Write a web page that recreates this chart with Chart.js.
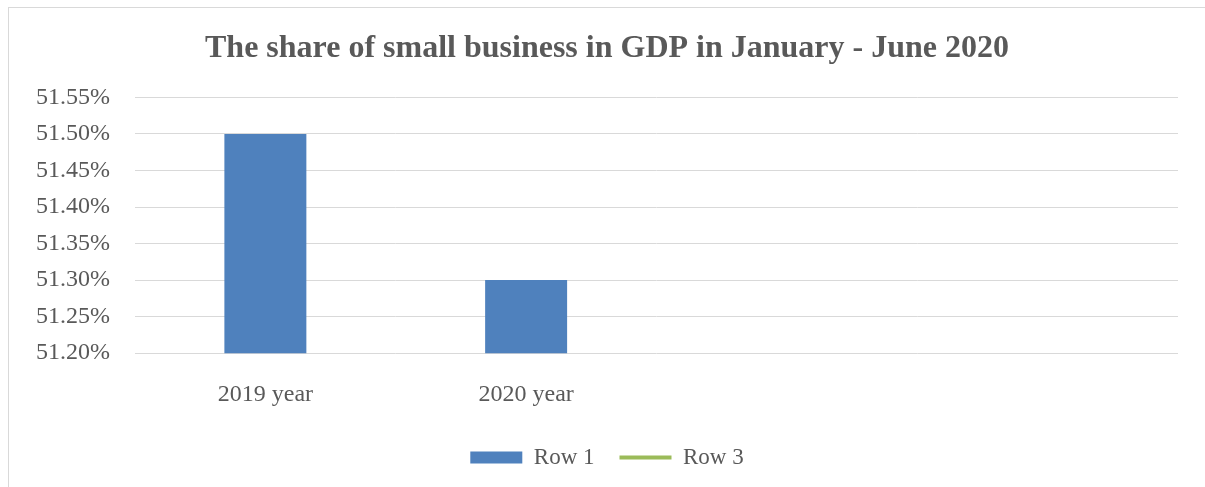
<!DOCTYPE html>
<html lang="en">
<head>
    <meta charset="UTF-8">
    <title>The share of small business in GDP</title>
    <script src="https://cdn.jsdelivr.net/npm/chart.js"></script>
    <style>
        html, body {
            margin: 0;
            padding: 0;
            background: #fff;
            overflow: hidden;
        }
        .frame {
            position: absolute;
            left: 8px;
            top: 7px;
            width: 1260px;
            height: 520px;
            border: 1px solid #d9d9d9;
        }
        .wrap {
            position: absolute;
            left: 33px;
            top: 0;
            width: 1172px;
            height: 487px;
        }
    </style>
</head>
<body>
    <div class="frame"></div>
    <div class="wrap"><canvas id="chart"></canvas></div>

    <script>
        const categories = ['2019 year', '2020 year', '', ''];
        const row1 = [51.50, 51.30, null, null];
        const row3 = [];
        const yMin = 51.20;
        const yMax = 51.55;
        const yStep = 0.05;

        const textColor = '#595959';
        const serif = "'Liberation Serif', 'Times New Roman', serif";

        new Chart(document.getElementById('chart'), {
            data: {
                labels: categories,
                datasets: [
                    {
                        type: 'bar',
                        label: 'Row 1',
                        data: row1,
                        backgroundColor: '#4f81bd',
                        borderWidth: 0,
                        categoryPercentage: 0.8,
                        barPercentage: 0.393,
                        pointStyle: 'rect'
                    },
                    {
                        type: 'line',
                        label: 'Row 3',
                        data: row3,
                        borderColor: '#9bbb59',
                        backgroundColor: '#9bbb59',
                        borderWidth: 4,
                        borderCapStyle: 'round',
                        pointStyle: 'line'
                    }
                ]
            },
            options: {
                responsive: true,
                maintainAspectRatio: false,
                animation: false,
                layout: {
                    padding: { left: 3, right: 27, top: 8, bottom: 8 }
                },
                plugins: {
                    title: {
                        display: true,
                        text: 'The share of small business in GDP in January - June 2020',
                        color: textColor,
                        font: { family: serif, size: 32, weight: 'bold' },
                        padding: { top: 22, bottom: 29 }
                    },
                    legend: {
                        position: 'bottom',
                        labels: {
                            usePointStyle: true,
                            pointStyleWidth: 52,
                            boxHeight: 12,
                            padding: 25,
                            color: textColor,
                            font: { family: serif, size: 23 }
                        }
                    },
                    tooltip: { enabled: false }
                },
                scales: {
                    x: {
                        grid: { display: false },
                        border: { display: false },
                        ticks: {
                            color: textColor,
                            font: { family: serif, size: 24 },
                            padding: 19,
                            maxRotation: 0
                        },
                        // pull the legend a little closer to the axis labels
                        afterFit: axis => { axis.height -= 7; }
                    },
                    y: {
                        min: yMin,
                        max: yMax,
                        grid: { color: '#d9d9d9', lineWidth: 1, drawTicks: false },
                        border: { display: false },
                        ticks: {
                            stepSize: yStep,
                            color: textColor,
                            font: { family: serif, size: 24 },
                            padding: 25,
                            callback: v => v.toFixed(2) + '%'
                        },
                        // fixed width so the plot starts where the original does
                        afterFit: axis => { axis.width = 99; }
                    }
                }
            }
        });
    </script>
</body>
</html>
